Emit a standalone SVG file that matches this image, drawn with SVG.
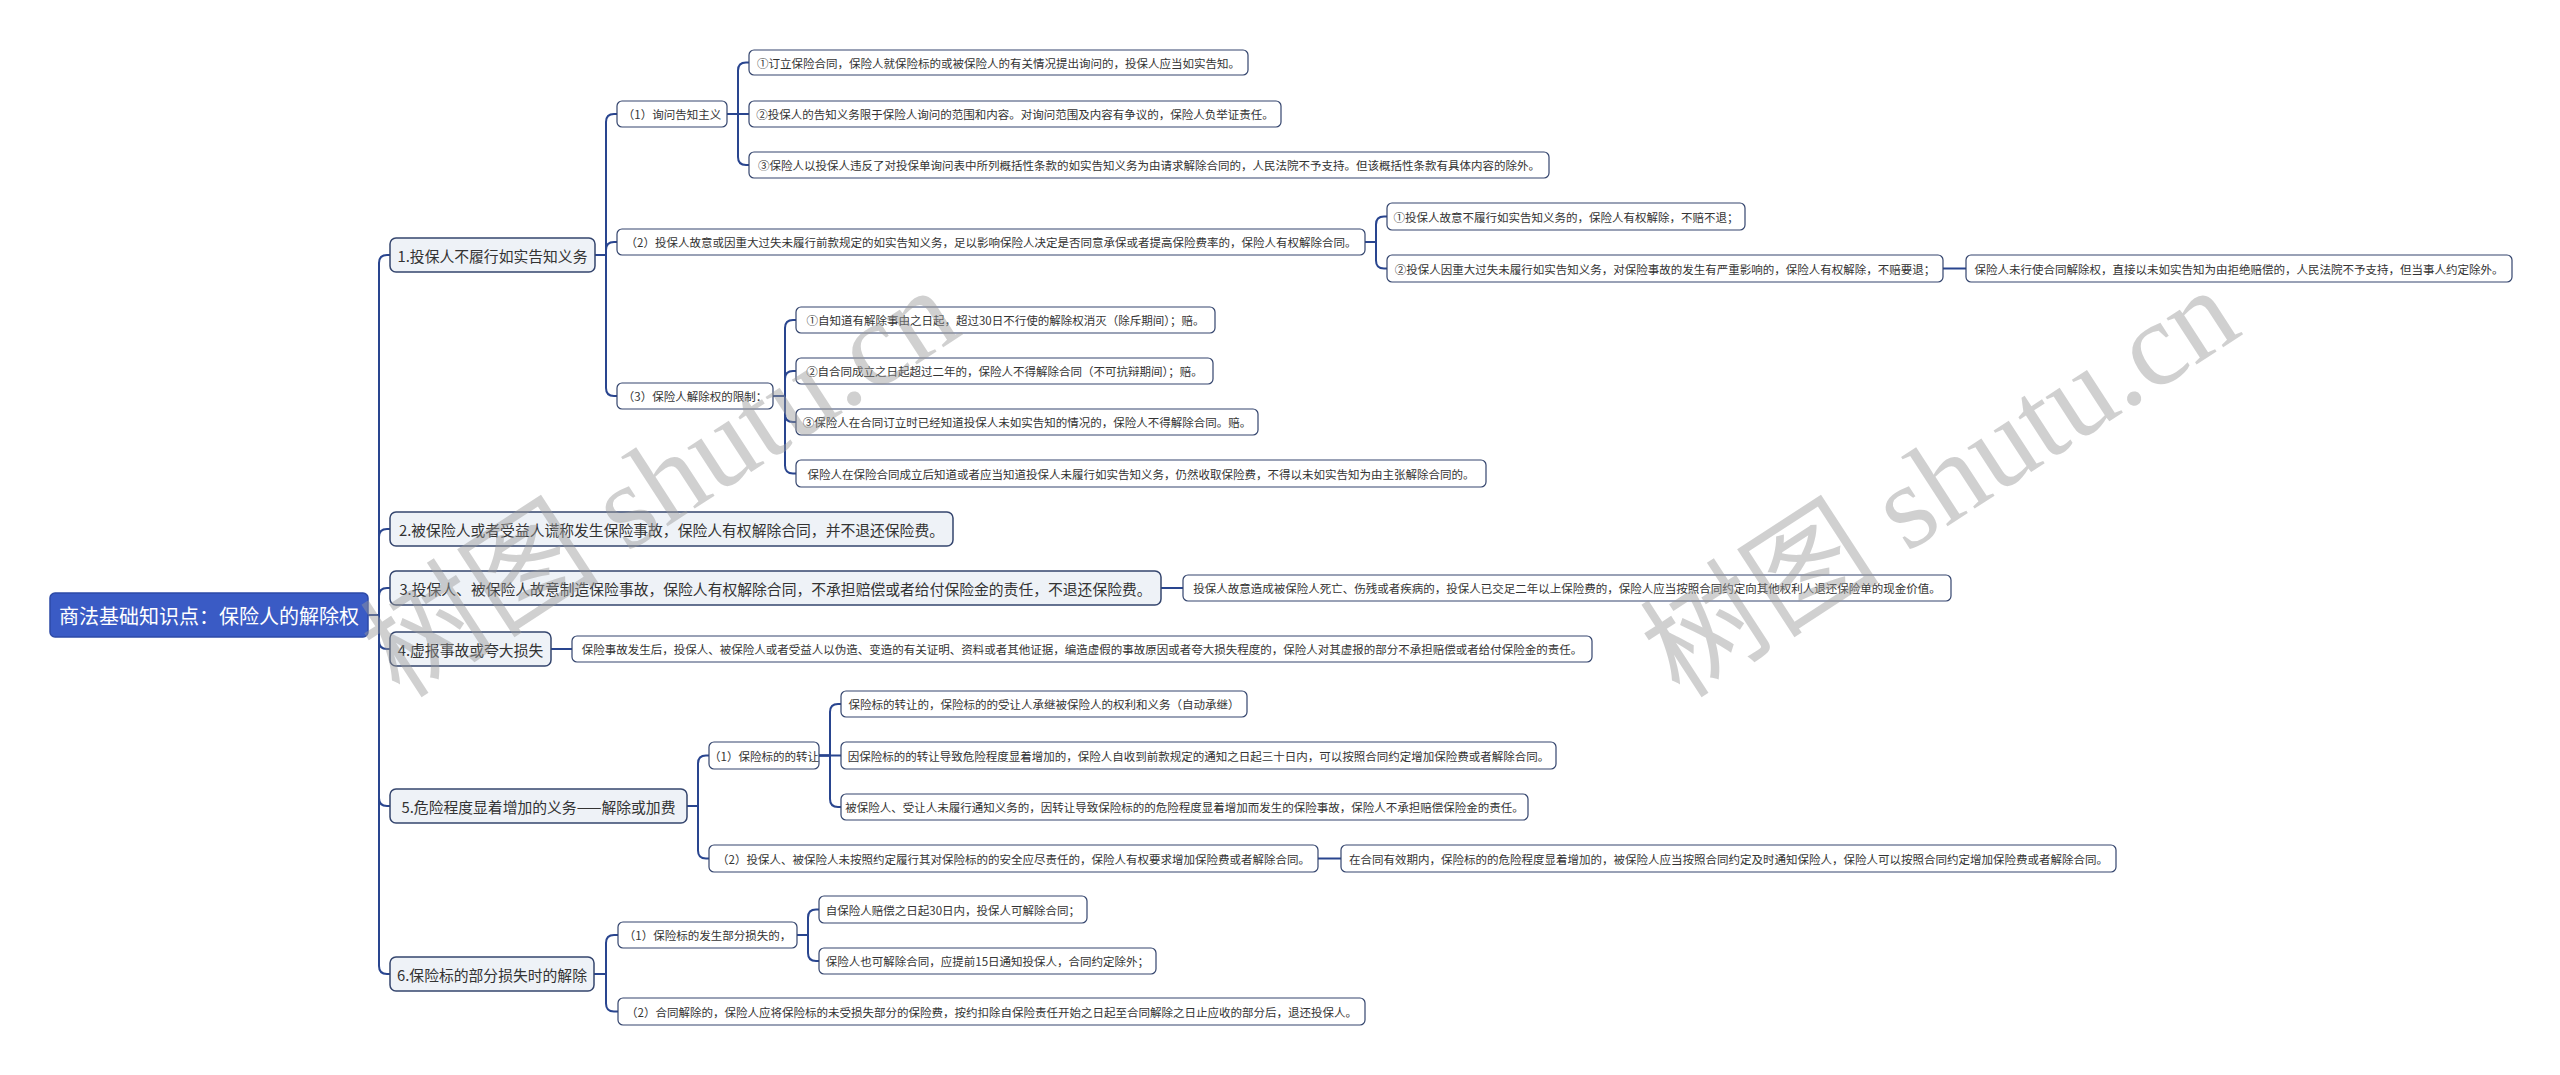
<svg xmlns="http://www.w3.org/2000/svg" width="2560" height="1075" viewBox="0 0 2560 1075">
<style>
.bg{fill:#ffffff}
.root{fill:#3a5bc5;stroke:#2d4aa6;stroke-width:1.5}
.l1{fill:#eef2f7;stroke:#34456e;stroke-width:1.5}
.leaf{fill:#ffffff;stroke:#34456e;stroke-width:1.2}
text{font-family:"Noto Sans CJK SC","Noto Sans",sans-serif;dominant-baseline:central;text-anchor:middle;fill:#333333}
.tr{font-size:20px;fill:#ffffff}
.t1{font-size:14.8px}
.t2{font-size:11.5px}
.conn path{fill:none;stroke:#29458f;stroke-width:2}
.wm{font-family:"Liberation Serif","Noto Sans CJK SC",serif;font-size:120px;fill:#999999;opacity:0.45;text-anchor:start;dominant-baseline:alphabetic}
</style>
<rect class="bg" x="0" y="0" width="2560" height="1075"/>
<g id="connectors" class="conn">
<path d="M368 615 H379 V263 Q379 255 387 255 H390"/>
<path d="M368 615 H379 V537 Q379 529 387 529 H390"/>
<path d="M368 615 H379 V596 Q379 588 387 588 H390"/>
<path d="M368 615 H379 V641 Q379 649 387 649 H390"/>
<path d="M368 615 H379 V798 Q379 806 387 806 H390"/>
<path d="M368 615 H379 V966 Q379 974 387 974 H390"/>
<path d="M595 255 H606 V122 Q606 114 614 114 H617"/>
<path d="M595 255 H606 V250 Q606 242 614 242 H617"/>
<path d="M595 255 H606 V388 Q606 396 614 396 H617"/>
<path d="M727 114 H738 V70.5 Q738 62.5 746 62.5 H749"/>
<path d="M727 114 H749"/>
<path d="M727 114 H738 V157 Q738 165 746 165 H749"/>
<path d="M1365 242 H1376 V224.5 Q1376 216.5 1384 216.5 H1387"/>
<path d="M1365 242 H1376 V260.5 Q1376 268.5 1384 268.5 H1387"/>
<path d="M1943 268.5 H1966"/>
<path d="M773 396 H785 V328 Q785 320 793 320 H796"/>
<path d="M773 396 H785 V379 Q785 371 793 371 H796"/>
<path d="M773 396 H785 V414 Q785 422 793 422 H796"/>
<path d="M773 396 H785 V465.5 Q785 473.5 793 473.5 H796"/>
<path d="M1161 588 H1183"/>
<path d="M551 649 H572"/>
<path d="M687 806 H698 V763.5 Q698 755.5 706 755.5 H709"/>
<path d="M687 806 H698 V850.5 Q698 858.5 706 858.5 H709"/>
<path d="M819 755.5 H830 V712 Q830 704 838 704 H841"/>
<path d="M819 755.5 H841"/>
<path d="M819 755.5 H830 V799 Q830 807 838 807 H841"/>
<path d="M1318 858.5 H1341"/>
<path d="M594 974 H606 V943 Q606 935 614 935 H618"/>
<path d="M594 974 H606 V1003.5 Q606 1011.5 614 1011.5 H618"/>
<path d="M797 935 H808 V917.5 Q808 909.5 816 909.5 H819"/>
<path d="M797 935 H808 V953 Q808 961 816 961 H819"/>
</g>
<g id="root"><rect class="root" x="50" y="593" width="318" height="44" rx="5"/><text class="tr" x="209" y="615">商法基础知识点：保险人的解除权</text></g>
<g id="n1"><rect class="l1" x="390" y="238" width="205" height="34" rx="6"/><text class="t1" x="492.5" y="255">1.投保人不履行如实告知义务</text></g>
<g id="n2"><rect class="l1" x="390" y="512" width="563" height="34" rx="6"/><text class="t1" x="671.5" y="529">2.被保险人或者受益人谎称发生保险事故，保险人有权解除合同，并不退还保险费。</text></g>
<g id="n3"><rect class="l1" x="390" y="571" width="771" height="34" rx="6"/><text class="t1" x="775.5" y="588">3.投保人、被保险人故意制造保险事故，保险人有权解除合同，不承担赔偿或者给付保险金的责任，不退还保险费。</text></g>
<g id="n4"><rect class="l1" x="390" y="632" width="161" height="34" rx="6"/><text class="t1" x="470.5" y="649">4.虚报事故或夸大损失</text></g>
<g id="n5"><rect class="l1" x="390" y="789" width="297" height="34" rx="6"/><text class="t1" x="538.5" y="806">5.危险程度显着增加的义务——解除或加费</text></g>
<g id="n6"><rect class="l1" x="390" y="957" width="204" height="34" rx="6"/><text class="t1" x="492" y="974">6.保险标的部分损失时的解除</text></g>
<g id="n1-1"><rect class="leaf" x="617" y="101" width="110" height="26" rx="5"/><text class="t2" x="672" y="114">（1）询问告知主义</text></g>
<g id="n1-1-1"><rect class="leaf" x="749" y="50" width="499" height="25" rx="5"/><text class="t2" x="998.5" y="62.5">①订立保险合同，保险人就保险标的或被保险人的有关情况提出询问的，投保人应当如实告知。</text></g>
<g id="n1-1-2"><rect class="leaf" x="749" y="101" width="532" height="26" rx="5"/><text class="t2" x="1015" y="114">②投保人的告知义务限于保险人询问的范围和内容。对询问范围及内容有争议的，保险人负举证责任。</text></g>
<g id="n1-1-3"><rect class="leaf" x="749" y="152" width="800" height="26" rx="5"/><text class="t2" x="1149" y="165">③保险人以投保人违反了对投保单询问表中所列概括性条款的如实告知义务为由请求解除合同的，人民法院不予支持。但该概括性条款有具体内容的除外。</text></g>
<g id="n1-2"><rect class="leaf" x="617" y="229" width="748" height="26" rx="5"/><text class="t2" x="991" y="242">（2）投保人故意或因重大过失未履行前款规定的如实告知义务，足以影响保险人决定是否同意承保或者提高保险费率的，保险人有权解除合同。</text></g>
<g id="n1-2-1"><rect class="leaf" x="1387" y="203" width="358" height="27" rx="5"/><text class="t2" x="1566" y="216.5">①投保人故意不履行如实告知义务的，保险人有权解除，不赔不退；</text></g>
<g id="n1-2-2"><rect class="leaf" x="1387" y="255" width="556" height="27" rx="5"/><text class="t2" x="1665" y="268.5">②投保人因重大过失未履行如实告知义务，对保险事故的发生有严重影响的，保险人有权解除，不赔要退；</text></g>
<g id="n1-2-2-1"><rect class="leaf" x="1966" y="255" width="546" height="27" rx="5"/><text class="t2" x="2239" y="268.5">保险人未行使合同解除权，直接以未如实告知为由拒绝赔偿的，人民法院不予支持，但当事人约定除外。</text></g>
<g id="n1-3"><rect class="leaf" x="617" y="383" width="156" height="26" rx="5"/><text class="t2" x="695" y="396">（3）保险人解除权的限制：</text></g>
<g id="n1-3-1"><rect class="leaf" x="796" y="307" width="419" height="26" rx="5"/><text class="t2" x="1005.5" y="320">①自知道有解除事由之日起，超过30日不行使的解除权消灭（除斥期间）；赔。</text></g>
<g id="n1-3-2"><rect class="leaf" x="796" y="358" width="417" height="26" rx="5"/><text class="t2" x="1004.5" y="371">②自合同成立之日起超过二年的，保险人不得解除合同（不可抗辩期间）；赔。</text></g>
<g id="n1-3-3"><rect class="leaf" x="796" y="409" width="462" height="26" rx="5"/><text class="t2" x="1027" y="422">③保险人在合同订立时已经知道投保人未如实告知的情况的，保险人不得解除合同。赔。</text></g>
<g id="n1-3-4"><rect class="leaf" x="796" y="460" width="690" height="27" rx="5"/><text class="t2" x="1141" y="473.5">保险人在保险合同成立后知道或者应当知道投保人未履行如实告知义务，仍然收取保险费，不得以未如实告知为由主张解除合同的。</text></g>
<g id="n3-1"><rect class="leaf" x="1183" y="575" width="768" height="26" rx="5"/><text class="t2" x="1567" y="588">投保人故意造成被保险人死亡、伤残或者疾病的，投保人已交足二年以上保险费的，保险人应当按照合同约定向其他权利人退还保险单的现金价值。</text></g>
<g id="n4-1"><rect class="leaf" x="572" y="636" width="1020" height="26" rx="5"/><text class="t2" x="1082" y="649">保险事故发生后，投保人、被保险人或者受益人以伪造、变造的有关证明、资料或者其他证据，编造虚假的事故原因或者夸大损失程度的，保险人对其虚报的部分不承担赔偿或者给付保险金的责任。</text></g>
<g id="n5-1"><rect class="leaf" x="709" y="742" width="110" height="27" rx="5"/><text class="t2" x="764" y="755.5">（1）保险标的的转让</text></g>
<g id="n5-1-1"><rect class="leaf" x="841" y="691" width="406" height="26" rx="5"/><text class="t2" x="1044" y="704">保险标的转让的，保险标的的受让人承继被保险人的权利和义务（自动承继）</text></g>
<g id="n5-1-2"><rect class="leaf" x="841" y="742" width="715" height="27" rx="5"/><text class="t2" x="1198.5" y="755.5">因保险标的的转让导致危险程度显着增加的，保险人自收到前款规定的通知之日起三十日内，可以按照合同约定增加保险费或者解除合同。</text></g>
<g id="n5-1-3"><rect class="leaf" x="841" y="794" width="687" height="26" rx="5"/><text class="t2" x="1184.5" y="807">被保险人、受让人未履行通知义务的，因转让导致保险标的的危险程度显着增加而发生的保险事故，保险人不承担赔偿保险金的责任。</text></g>
<g id="n5-2"><rect class="leaf" x="709" y="845" width="609" height="27" rx="5"/><text class="t2" x="1013.5" y="858.5">（2）投保人、被保险人未按照约定履行其对保险标的的安全应尽责任的，保险人有权要求增加保险费或者解除合同。</text></g>
<g id="n5-2-1"><rect class="leaf" x="1341" y="845" width="775" height="27" rx="5"/><text class="t2" x="1728.5" y="858.5">在合同有效期内，保险标的的危险程度显着增加的，被保险人应当按照合同约定及时通知保险人，保险人可以按照合同约定增加保险费或者解除合同。</text></g>
<g id="n6-1"><rect class="leaf" x="618" y="922" width="179" height="26" rx="5"/><text class="t2" x="707.5" y="935">（1）保险标的发生部分损失的，</text></g>
<g id="n6-1-1"><rect class="leaf" x="819" y="896" width="268" height="27" rx="5"/><text class="t2" x="953" y="909.5">自保险人赔偿之日起30日内，投保人可解除合同；</text></g>
<g id="n6-1-2"><rect class="leaf" x="819" y="948" width="337" height="26" rx="5"/><text class="t2" x="987.5" y="961">保险人也可解除合同，应提前15日通知投保人，合同约定除外；</text></g>
<g id="n6-2"><rect class="leaf" x="618" y="998" width="747" height="27" rx="5"/><text class="t2" x="991.5" y="1011.5">（2）合同解除的，保险人应将保险标的未受损失部分的保险费，按约扣除自保险责任开始之日起至合同解除之日止应收的部分后，退还投保人。</text></g>
<g id="watermarks">
<text class="wm" transform="translate(400,700) rotate(-33)">树图 shutu.cn</text>
<text class="wm" transform="translate(1680,700) rotate(-33)">树图 shutu.cn</text>
</g>
</svg>
